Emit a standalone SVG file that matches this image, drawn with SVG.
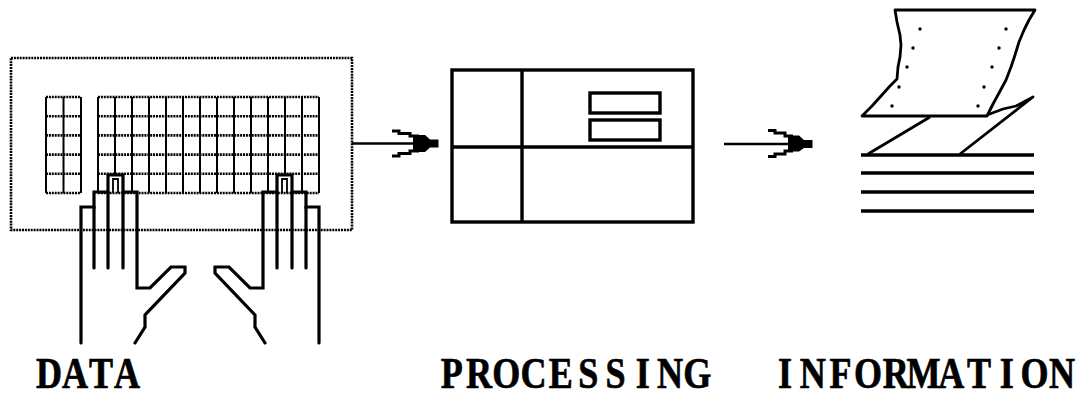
<svg xmlns="http://www.w3.org/2000/svg" width="1077" height="402" viewBox="0 0 1077 402">
  <style>
    .dot { fill: none; stroke: #000; stroke-width: 2.6; stroke-dasharray: 2 0.9; }
    .key { fill: none; stroke: #000; stroke-width: 2; }
    .hand { fill: none; stroke: #000; stroke-width: 3.2; stroke-linejoin: miter; stroke-linecap: round; }
    .thin { fill: none; stroke: #000; stroke-width: 1.8; }
    .box { fill: none; stroke: #000; stroke-width: 3.4; }
    .wire { fill: none; stroke: #000; stroke-width: 2.4; }
    .barb { fill: none; stroke: #000; stroke-width: 3; stroke-linejoin: miter; }
    .paper { fill: none; stroke: #000; stroke-width: 2.8; stroke-linejoin: round; }
    .label { font-family: "Liberation Serif", "DejaVu Serif", serif; font-weight: bold; font-size: 44px; fill: #000; stroke: #000; stroke-width: 0.7; text-anchor: middle; }
  </style>

  <!-- DATA: keyboard with two hands -->
  <g id="data">
    <rect class="dot" x="11" y="58" width="341" height="172"/>
    <!-- keypad block -->
    <g id="keypad">
      <path class="key" d="M46,97 V193 M63.5,97 V193 M81,97 V193"/>
      <path class="dot" d="M46,97 H81 M46,116.2 H81 M46,135.4 H81 M46,154.6 H81 M46,173.8 H81 M46,193 H81"/>
    </g>
    <!-- main key block -->
    <g id="keys">
      <path class="key" d="M98,97 V193 M115,97 V175 M132,97 V193 M149,97 V193 M166,97 V193 M183,97 V193 M200,97 V193 M217,97 V193 M234,97 V193 M251,97 V193 M268,97 V193 M285,97 V175 M302,97 V193 M319,97 V193"/>
      <path class="dot" d="M98,97 H319 M98,116.2 H319 M98,135.4 H319 M98,154.6 H319 M98,173.8 H319 M98,193 H319"/>
    </g>
    <!-- left hand -->
    <g id="left-hand">
      <path class="hand" d="M81,343 V207 H94 V192 H108 V175 H123 V192 H137 V288 H150 L171,267 H185 V273 L145,315 V327 L135,343"/>
      <path class="hand" d="M94,207 V268 M108,192 V268 M123,192 V268"/>
      <path class="thin" d="M113,193 V179 H118 V193"/>
    </g>
    <!-- right hand -->
    <g id="right-hand">
      <path class="hand" d="M319,343 V207 H306 V192 H292 V175 H277 V192 H263 V288 H250 L229,267 H215 V273 L255,315 V327 L265,343"/>
      <path class="hand" d="M306,207 V268 M292,192 V268 M277,192 V268"/>
      <path class="thin" d="M287,193 V179 H282 V193"/>
    </g>
    <!-- fixed-pitch caption: one glyph per cell, narrowed (x in scaled units) -->
    <text class="label" transform="scale(0.82 1)" y="388" x="59.8 91.5 123.2 154.9">DATA</text>
  </g>

  <!-- PROCESSING: processor unit -->
  <g id="processing">
    <rect class="box" x="452" y="70" width="241" height="152"/>
    <path class="box" d="M522,70 V222 M452,147 H693"/>
    <rect class="box" x="590" y="93" width="70" height="20" stroke-width="3"/>
    <rect class="box" x="590" y="120" width="70" height="20" stroke-width="3"/>
    <text class="label" transform="scale(0.82 1)" y="388" x="550.8 584.1 617.4 650.7 684 717.3 750.6 783.9 817.2 850.5">PROCESSING</text>
  </g>

  <!-- INFORMATION: printout -->
  <g id="information">
    <!-- sheet being fed -->
    <path class="paper" d="M895,10 H1035 L1029,20 L1024,30 L1019,42 L1015,55 L1011,67 L1006,80 L999,93 L993,104 L987,116 H862 L872,106 L881,96 L890,86 L897,79 L898,67 L900,57 L901,45 L900,35 L897,22 Z"/>
    <g fill="#000">
      <circle cx="920" cy="29" r="1.7"/>
      <circle cx="913" cy="48" r="1.7"/>
      <circle cx="907" cy="67" r="1.7"/>
      <circle cx="899" cy="87" r="1.7"/>
      <circle cx="892" cy="106" r="1.7"/>
      <circle cx="1006" cy="29" r="1.7"/>
      <circle cx="999" cy="48" r="1.7"/>
      <circle cx="992" cy="67" r="1.7"/>
      <circle cx="984" cy="87" r="1.7"/>
      <circle cx="978" cy="106" r="1.7"/>
    </g>
    <!-- fold down to the stack -->
    <path class="paper" d="M930,117 L868,154"/>
    <path class="paper" d="M987,115 L1003,109 L1016,106 L1033,97 L960,154"/>
    <!-- stacked sheets -->
    <path class="box" d="M861,155 H1034 M861,173 H1034 M861,192 H1034 M861,211 H1034"/>
    <text class="label" transform="scale(0.82 1)" y="388" x="957.3 991.1 1024.9 1058.7 1092.5 1126.3 1160.1 1193.9 1227.7 1261.5 1295.3">INFORMATION</text>
  </g>

  <!-- connectors -->
  <g id="connectors">
    <g id="data-to-processing">
      <path class="wire" d="M352,143.5 H436"/>
      <path class="barb" d="M392,131 H399 V133.5 H410 V136 H419"/>
      <path class="barb" d="M392,156 H399 V153.5 H410 V151 H419"/>
      <path fill="#000" d="M413,135 H425 L430,139.5 H438.5 V147.5 H430 L425,152 H413 Z"/>
    </g>
    <g id="processing-to-information">
      <path class="wire" d="M724,144 H812"/>
      <path class="barb" d="M768,130.5 H775 V133 H785 V136 H793"/>
      <path class="barb" d="M768,156.5 H775 V154 H785 V151 H793"/>
      <path fill="#000" d="M788,135.5 H799 L804,140 H812.5 V148 H804 L799,151.5 H788 Z"/>
    </g>
  </g>
</svg>
